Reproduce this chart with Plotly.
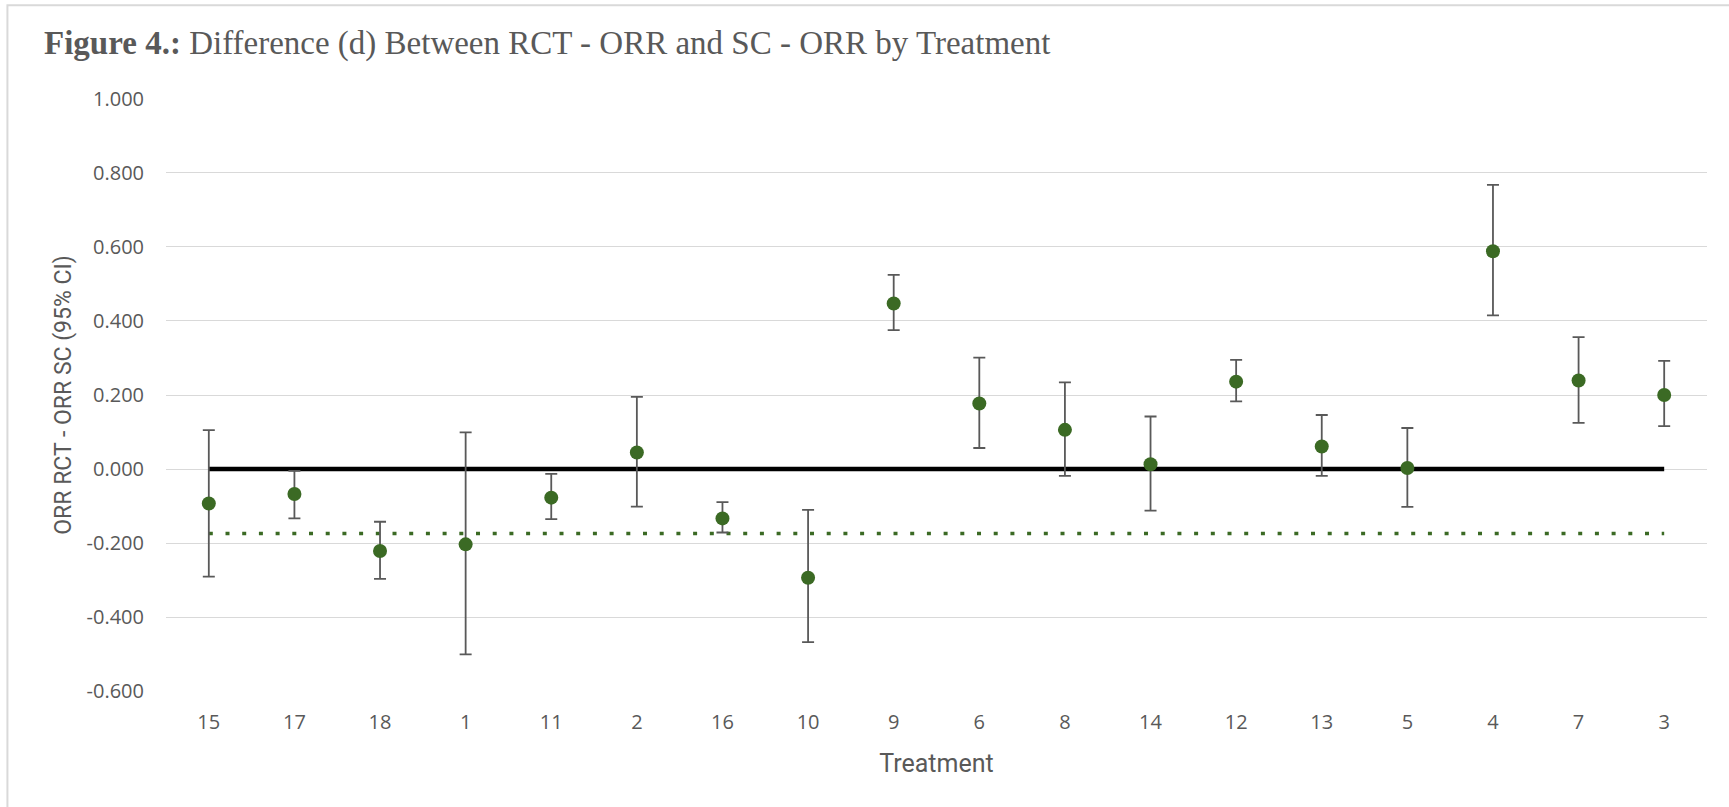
import plotly.graph_objects as go

# Treatment order along the x axis
treatments = ["15", "17", "18", "1", "11", "2", "16", "10", "9",
              "6", "8", "14", "12", "13", "5", "4", "7", "3"]

# Difference d = ORR(RCT) - ORR(SC) with 95% CI bounds
d_values = [-0.093, -0.067, -0.221, -0.203, -0.077, 0.045, -0.133, -0.293, 0.447,
            0.177, 0.106, 0.013, 0.236, 0.061, 0.003, 0.588, 0.239, 0.200]
ci_lower = [-0.290, -0.133, -0.296, -0.500, -0.135, -0.101, -0.171, -0.467, 0.375,
            0.057, -0.018, -0.112, 0.183, -0.018, -0.102, 0.415, 0.125, 0.116]
ci_upper = [0.105, -0.005, -0.142, 0.099, -0.013, 0.195, -0.089, -0.110, 0.524,
            0.301, 0.234, 0.142, 0.295, 0.146, 0.111, 0.767, 0.356, 0.292]

# Reference levels: no difference, and the pooled difference
no_difference = 0.0
pooled_d = -0.174

y_ticks = [-0.6, -0.4, -0.2, 0.0, 0.2, 0.4, 0.6, 0.8, 1.0]
y_tick_text = [f"{v:.3f}" for v in y_ticks]

err_plus = [u - d for u, d in zip(ci_upper, d_values)]
err_minus = [d - l for d, l in zip(d_values, ci_lower)]

GREEN = "#3b6a24"
GREY_TEXT = "#595959"
TICK_FONT = "Open Sans, sans-serif"
AXIS_TITLE_FONT = "Roboto, sans-serif"

fig = go.Figure()

fig.add_trace(go.Scatter(
    x=treatments, y=[pooled_d] * len(treatments), mode="lines",
    line=dict(color=GREEN, width=3.5, dash="4px,12.7px"),
    hoverinfo="skip", showlegend=False,
))

fig.add_trace(go.Scatter(
    x=treatments, y=[no_difference] * len(treatments), mode="lines",
    line=dict(color="#000000", width=4.5),
    hoverinfo="skip", showlegend=False,
))

fig.add_trace(go.Scatter(
    x=treatments, y=d_values, mode="markers",
    marker=dict(color=GREEN, size=14, line=dict(width=0)),
    error_y=dict(type="data", symmetric=False, array=err_plus, arrayminus=err_minus,
                 color="#595959", thickness=1.8, width=6),
    showlegend=False,
))

fig.update_layout(
    width=1729, height=807,
    margin=dict(l=166, r=22, t=98, b=115),
    paper_bgcolor="white", plot_bgcolor="white",
    title=dict(
        text="<b>Figure 4.:</b> Difference (d) Between RCT - ORR and SC - ORR by Treatment",
        font=dict(family="Liberation Serif, serif", size=33, color=GREY_TEXT),
        x=44 / 1729, xanchor="left", xref="container",
        y=1 - 42 / 807, yanchor="middle", yref="container",
    ),
    xaxis=dict(
        type="category", categoryorder="array", categoryarray=treatments,
        range=[-0.5, len(treatments) - 0.5],
        showgrid=False, zeroline=False, showline=False, ticks="",
        tickfont=dict(family=TICK_FONT, size=20, color=GREY_TEXT),
        ticklabelstandoff=16,
        title=dict(text="Treatment", standoff=20,
                   font=dict(family=AXIS_TITLE_FONT, size=25, color=GREY_TEXT)),
    ),
    yaxis=dict(
        range=[-0.6015, 1.0015], tickvals=y_ticks, ticktext=y_tick_text,
        showgrid=True, gridcolor="#d9d9d9", gridwidth=1.4,
        zeroline=False, showline=False, ticks="",
        tickfont=dict(family=TICK_FONT, size=20, color=GREY_TEXT),
        ticklabelstandoff=21,
        title=dict(text="ORR RCT - ORR SC (95% CI)", standoff=8,
                   font=dict(family=AXIS_TITLE_FONT, size=23, color=GREY_TEXT)),
    ),
    shapes=[dict(
        type="path", xref="paper", yref="paper",
        path="M 1.1,1.1561 L -0.1029,1.1561 L -0.1029,-0.2",
        line=dict(color="#d9d9d9", width=2),
    )],
)

fig.write_html("out.html")
